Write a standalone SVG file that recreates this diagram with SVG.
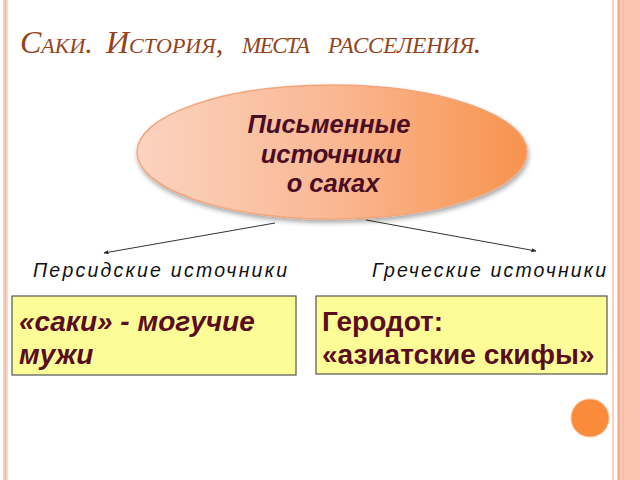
<svg xmlns="http://www.w3.org/2000/svg" width="640" height="480" viewBox="0 0 640 480">
<defs>
<linearGradient id="eg" x1="0" y1="0" x2="1" y2="0">
<stop offset="0" stop-color="#fbd3c0"/>
<stop offset="0.5" stop-color="#f9b894"/>
<stop offset="1" stop-color="#f7934d"/>
</linearGradient>
<filter id="sh" x="-10%" y="-10%" width="120%" height="130%">
<feGaussianBlur in="SourceAlpha" stdDeviation="2.5"/>
<feOffset dx="1" dy="3"/>
<feComponentTransfer><feFuncA type="linear" slope="0.35"/></feComponentTransfer>
<feMerge><feMergeNode/><feMergeNode in="SourceGraphic"/></feMerge>
</filter>
<marker id="ah" viewBox="0 0 10 10" refX="9" refY="5" markerWidth="5" markerHeight="5" orient="auto">
<path d="M0,1 L10,5 L0,9 z" fill="#222"/>
</marker>
<style>
.title{font-family:"Liberation Sans",Arial,sans-serif;font-family:"Liberation Serif",serif;font-style:italic;fill:#93441d}
.ell{font-family:"Liberation Sans",Arial,sans-serif;font-weight:bold;font-style:italic;font-size:25.5px;fill:#4a0d24}
.lab{font-family:"Liberation Sans",Arial,sans-serif;font-style:italic;font-size:19.5px;fill:#111}
.box{fill:#fdfd98;stroke:#555;stroke-width:1.2}
.bt{font-family:"Liberation Sans",Arial,sans-serif;font-weight:bold;font-size:28px;fill:#5a0d1e}
.conn{stroke:#333;stroke-width:1;fill:none;marker-end:url(#ah)}
</style>
</defs>
<rect width="640" height="480" fill="#ffffff"/>
<!-- decorative borders -->
<rect x="3" y="0" width="5" height="480" fill="#fbd6c6"/>
<rect x="4.5" y="0" width="1.5" height="480" fill="#f6b89e"/>
<rect x="612" y="0" width="2" height="480" fill="#fbd3c3"/>
<rect x="617" y="0" width="23" height="480" fill="#fcc5b2"/>
<rect x="618" y="0" width="2" height="480" fill="#f2ad8f"/>
<rect x="623" y="0" width="1" height="480" fill="#f6b9a0"/>

<g id="title">
<text class="title" y="53"><tspan x="20" font-size="32">С</tspan><tspan font-size="22">АКИ</tspan><tspan font-size="30">.</tspan><tspan x="106" font-size="32">И</tspan><tspan font-size="22">СТОРИЯ</tspan><tspan font-size="30">,</tspan><tspan x="242" font-size="23" textLength="68">МЕСТА</tspan><tspan x="328" font-size="23" textLength="146">РАССЕЛЕНИЯ</tspan><tspan font-size="30">.</tspan></text>
</g>

<g id="connectors">
<line class="conn" x1="275" y1="223" x2="104" y2="253"/>
<line class="conn" x1="366" y1="220" x2="536" y2="251"/>
</g>

<g id="node-sources">
<ellipse cx="332" cy="152" rx="195" ry="67" fill="url(#eg)" stroke="#f3a57a" stroke-width="1.5" filter="url(#sh)"/>
<text class="ell" text-anchor="middle"><tspan x="329" y="133">Письменные</tspan><tspan x="331" y="163">источники</tspan><tspan x="333" y="192">о саках</tspan></text>
</g>

<g id="label-persian">
<text class="lab" x="33" y="277" textLength="254">Персидские  источники</text>
</g>
<g id="label-greek">
<text class="lab" x="372" y="277" textLength="234">Греческие источники</text>
</g>

<g id="node-persian">
<rect class="box" x="12" y="296" width="284" height="79"/>
<text class="bt" font-style="italic"><tspan x="19" y="331">«саки» - могучие</tspan><tspan x="19" y="364">мужи</tspan></text>
</g>

<g id="node-greek">
<rect class="box" x="316" y="296" width="291" height="78"/>
<text class="bt"><tspan x="322" y="331">Геродот:</tspan><tspan x="322" y="364">«азиатские скифы»</tspan></text>
</g>

<circle cx="590" cy="418" r="19" fill="#f98b3a" stroke="#fcc39a" stroke-width="1"/>
</svg>
